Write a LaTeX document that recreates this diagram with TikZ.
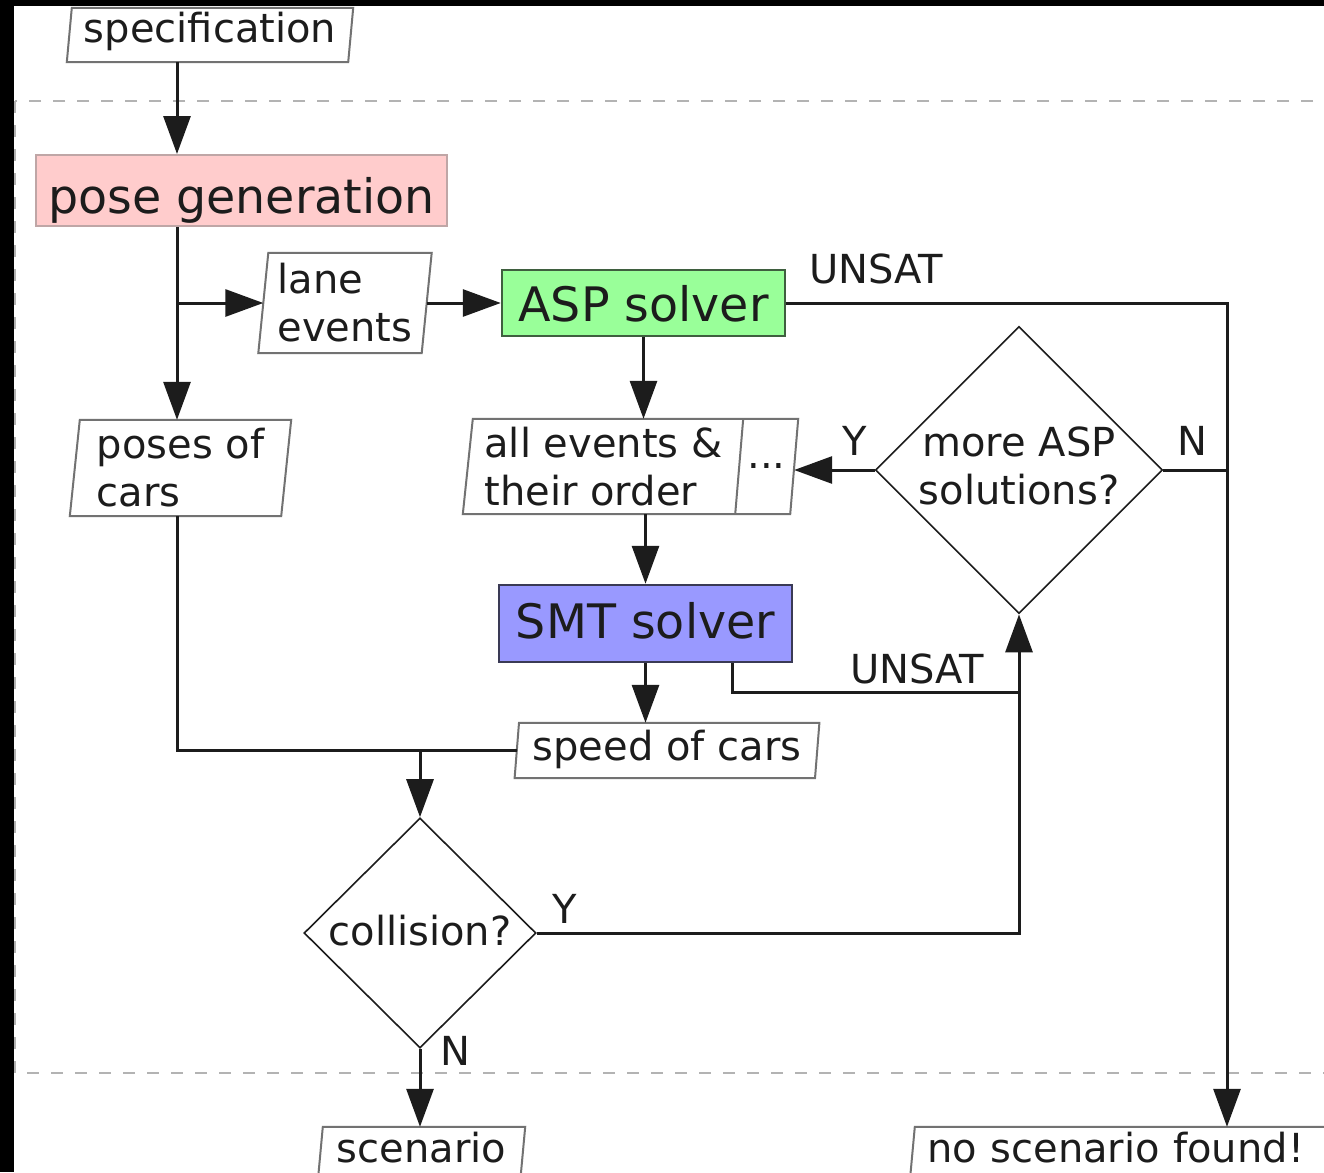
\documentclass[tikz,border=0pt]{standalone}
\usepackage{fontspec}
\setmainfont{DejaVu Sans}
\usetikzlibrary{arrows.meta,shapes.geometric}

\definecolor{pinkfill}{HTML}{FFCCCC}
\definecolor{pinkline}{HTML}{BFA6A6}
\definecolor{aspfill}{HTML}{99FF99}
\definecolor{aspline}{HTML}{3F5F3F}
\definecolor{smtfill}{HTML}{9999FF}
\definecolor{smtline}{HTML}{3A3A55}
\definecolor{iogray}{HTML}{727272}
\definecolor{dashgray}{HTML}{B3B3B3}
\definecolor{inkc}{HTML}{1C1C1C}

\tikzset{
  base/.style={inner sep=0pt, text=inkc, font=\fontsize{40}{48}\selectfont},
  iobox/.style={base, rectangle},
  ioframe/.style={draw=iogray, line width=2pt, fill=white},
  proc/.style={base, rectangle, draw, line width=2.5pt,
               font=\fontsize{47.5}{57}\selectfont, text depth=0pt},
  decision/.style={base, diamond, draw=inkc, line width=1.6pt, fill=white},
  conn/.style={draw=inkc, line width=3pt},
  arr/.style={conn, -{Triangle[length=38pt,width=27pt]}},
  lbl/.style={base, anchor=base west},
  frameline/.style={draw=dashgray, line width=2.3pt, dash pattern=on 12pt off 12pt}
}

% slanted data frame around a node: #1 = half slant, #2 = node name
\newcommand\ioshape[2]{%
  \path[ioframe] ([xshift=#1pt]#2.north west) -- ([xshift=#1pt]#2.north east)
    -- ([xshift=-#1pt]#2.south east) -- ([xshift=-#1pt]#2.south west) -- cycle;}

\begin{document}
\begin{tikzpicture}[x=1pt, y=-1pt]
  \useasboundingbox (0,0) rectangle (1324,1172);
  \clip (0,0) rectangle (1324,1172);
  \fill[black] (0,0) rectangle (1324,1172);
  \fill[white] (14,6) rectangle (1324,1172);

  % dashed boundary of the generator
  \draw[frameline] (15,101) rectangle (1360,1073);

  % helper columns and rows
  \coordinate (xa) at (177,0);
  \coordinate (xr) at (1227,0);
  \coordinate (yu) at (0,692);

  % data nodes (frames drawn behind the text)
  \node[iobox, minimum width=281pt, minimum height=54pt, text height=16pt, text depth=0pt]
    (spec) at (210,35) {};
  \ioshape{2.5}{spec}
  \node[iobox, minimum width=281pt, minimum height=54pt, text height=16pt, text depth=0pt]
    at (spec) {specification};

  \node[iobox, minimum width=163pt, minimum height=100pt] (lane) at (345,303) {};
  \ioshape{5}{lane}
  \node[iobox, minimum width=163pt, minimum height=100pt, align=left] at (lane) {lane\\events};

  \node[iobox, minimum width=211pt, minimum height=96pt] (poses) at (180.5,468) {};
  \ioshape{5}{poses}
  \node[iobox, minimum width=211pt, minimum height=96pt, align=left] at (poses) {poses of\\cars};

  \node[iobox, minimum width=271pt, minimum height=95pt] (ae) at (603.5,466.5) {};
  \node[iobox, minimum width=55pt, minimum height=95pt] (dots) at (766.5,466.5) {};
  \path[ioframe] ([xshift=5pt]ae.north west) -- ([xshift=4pt]dots.north east)
    -- ([xshift=-4pt]dots.south east) -- ([xshift=-5pt]ae.south west) -- cycle;
  \draw[ioframe] ([xshift=4pt]ae.north east) -- ([xshift=-4pt]ae.south east);
  \node[iobox, minimum width=271pt, minimum height=95pt, align=left] at (ae) {all events \&\\their order};
  \node[iobox] at (dots) {...};

  \node[iobox, minimum width=300pt, minimum height=55pt] (speed) at (667,750.5) {};
  \ioshape{2.2}{speed}
  \node[iobox, minimum width=300pt, minimum height=55pt, text height=19pt, text depth=0pt]
    at (speed) {speed of cars};

  \node[iobox, minimum width=202pt, minimum height=54pt] (scen) at (421.5,1154) {};
  \ioshape{2.5}{scen}
  \node[iobox, minimum width=202pt, minimum height=54pt, text height=16pt, text depth=0pt]
    at (scen) {scenario};

  \node[iobox, minimum width=420pt, minimum height=54pt] (noscen) at (1122.5,1154) {};
  \ioshape{2.5}{noscen}
  \node[iobox, minimum width=420pt, minimum height=54pt, text height=16pt, text depth=0pt,
        text width=390pt, align=left] at (noscen) {no scenario found!};

  % processes
  \node[proc, fill=pinkfill, draw=pinkline, line width=2pt, minimum width=411pt,
        minimum height=71pt, text height=45pt] (pg) at (241.5,190.5) {pose generation};
  \node[proc, fill=aspfill, draw=aspline, minimum width=283pt, minimum height=66pt,
        text height=37.4pt] (asp) at (643.5,303) {ASP solver};
  \node[proc, fill=smtfill, draw=smtline, minimum width=293pt, minimum height=77pt,
        text height=30pt] (smt) at (645.5,623.5) {SMT solver};

  % decisions
  \node[decision, minimum width=282pt, minimum height=282pt, align=center]
    (more) at (1019,470) {more ASP\\solutions?\rule[-9pt]{0pt}{9pt}};
  \node[decision, minimum width=232pt, minimum height=230pt, text height=24pt, text depth=0pt]
    (coll) at (420,933) {collision?};

  % connectors
  \draw[arr] (spec.south -| xa) -- (pg.north -| xa);
  \draw[arr] (pg.south -| xa) -- (poses.north -| xa);
  \draw[arr] (xa |- lane.west) -- (lane.west);
  \draw[arr] (lane.east) -- (asp.west);
  \draw[arr] (asp.east) -| (noscen.north -| xr);
  \draw[arr] (asp.south) -- (asp.south |- ae.north);
  \draw[arr] (more.west) -- (more.west -| dots.east);
  \draw[conn] (more.east) -- (more.east -| xr);
  \draw[arr] (smt.north |- ae.south) -- (smt.north);
  \draw[arr] (smt.south) -- (smt.south |- speed.north);
  \draw[conn] ([xshift=86.5pt]smt.south) |- (more.south |- yu);
  \draw[arr] (coll.east) -| (more.south);
  \draw[conn] (poses.south -| xa) |- (speed.west);
  \draw[arr] (coll.north |- speed.west) -- (coll.north);
  \draw[arr] (coll.south) -- (coll.south |- scen.north);

  % branch labels
  \node[lbl] (u1) at (809,283) {UNSAT};
  \node[lbl] (u2) at (850,683) {UNSAT};
  \node[lbl] (y1) at (842,455) {Y};
  \node[lbl] (n1) at (1177,455) {N};
  \node[lbl] (y2) at (552,923) {Y};
  \node[lbl] (n2) at (440,1065) {N};
\end{tikzpicture}
\end{document}
